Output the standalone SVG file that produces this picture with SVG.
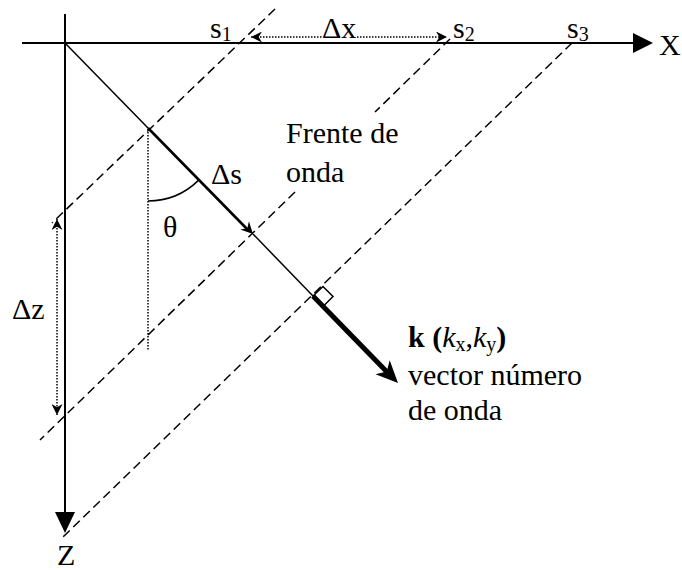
<svg xmlns="http://www.w3.org/2000/svg" width="682" height="570" viewBox="0 0 682 570">
<defs>
<style>
text{font-family:"Liberation Serif","Times New Roman",serif;font-size:30px;fill:#000}
.sub{font-size:20px}
.ax{stroke:#000;stroke-width:2;fill:none}
.dash{stroke:#000;stroke-width:1.5;fill:none;stroke-dasharray:9 5}
.dot{stroke:#000;stroke-width:1.5;fill:none;stroke-dasharray:1.5 1.5}
.thin{stroke:#000;stroke-width:1.5;fill:none}
.head{fill:#000;stroke:none}
</style>
<marker id="sm" viewBox="0 0 10 10" refX="10" refY="5" markerWidth="11" markerHeight="11" markerUnits="userSpaceOnUse" orient="auto-start-reverse">
<path d="M0,0 L10,5 L0,10 L3,5 z" fill="#000"/>
</marker>
</defs>
<rect width="682" height="570" fill="#fff"/>

<g id="axes">
<line class="ax" x1="22" y1="43" x2="634" y2="43"/>
<path class="head" d="M633,33 L653,43 L633,53 z"/>
<line class="ax" x1="65" y1="14" x2="65" y2="513"/>
<path class="head" d="M55,512 L75,512 L65,533 z"/>
<text x="659" y="55">X</text>
<text x="57" y="565">Z</text>
</g>

<g id="wavefronts">
<line class="dash" x1="275" y1="9" x2="52" y2="223"/>
<line class="dash" x1="450" y1="39" x2="375" y2="112"/>
<line class="dash" x1="295" y1="192" x2="40" y2="440"/>
<line class="dash" x1="572" y1="43" x2="62" y2="538"/>
<text x="286" y="143">Frente de</text>
<text x="286" y="182">onda</text>
</g>

<g id="ray">
<line class="thin" x1="65" y1="43" x2="148" y2="128"/>
<line stroke="#000" stroke-width="2.6" x1="148" y1="128" x2="249" y2="231"/>
<path class="head" d="M253,234 L240.3,229.6 L247.4,228.3 L248.9,221.2 z"/>
<line class="thin" x1="253" y1="234" x2="313" y2="296"/>
<line stroke="#000" stroke-width="5" x1="313" y1="296" x2="387" y2="372"/>
<path class="head" d="M398,383 L375.5,374.3 L386.8,371.6 L389.7,360.3 z"/>
<polygon class="thin" points="313,296 323,286.5 333,296.5 323.5,306"/>
</g>

<g id="angle">
<line class="dot" stroke-width="1.2" x1="148" y1="129" x2="148" y2="350"/>
<path class="thin" d="M148,201 A72,72 0 0 0 198.4,180.4"/>
<text x="163" y="237">θ</text>
<text x="211" y="184">Δs</text>
</g>

<g id="dx">
<line class="dot" x1="251" y1="37" x2="322" y2="37" marker-start="url(#sm)"/>
<line class="dot" x1="357" y1="37" x2="447" y2="37" marker-end="url(#sm)"/>
<text x="322" y="38">Δx</text>
<text x="210" y="38">s<tspan class="sub" dy="3">1</tspan></text>
<text x="453" y="38">s<tspan class="sub" dy="3">2</tspan></text>
<text x="567" y="38">s<tspan class="sub" dy="3">3</tspan></text>
</g>

<g id="dz">
<line class="dot" x1="57" y1="219" x2="57" y2="415" marker-start="url(#sm)" marker-end="url(#sm)"/>
<text x="12" y="319">Δz</text>
</g>

<g id="klabel">
<text x="408" y="347"><tspan font-weight="bold">k (</tspan><tspan font-style="italic">k</tspan><tspan class="sub" dy="4">x</tspan><tspan dy="-4">,</tspan><tspan font-style="italic">k</tspan><tspan class="sub" dy="4">y</tspan><tspan font-weight="bold" dy="-4">)</tspan></text>
<text x="408" y="385">vector número</text>
<text x="408" y="420">de onda</text>
</g>
</svg>
